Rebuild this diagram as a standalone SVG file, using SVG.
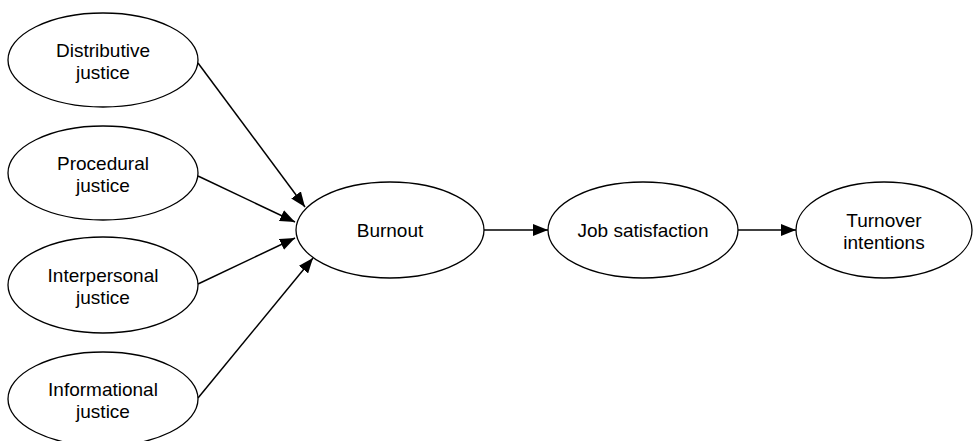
<svg xmlns="http://www.w3.org/2000/svg" width="974" height="441" viewBox="0 0 974 441">
<style>
.n ellipse{fill:#fff;stroke:#000;stroke-width:1.3}
text{font-family:"Liberation Sans",Arial,sans-serif;font-size:19px;fill:#000;text-anchor:middle}
.c line{stroke:#000;stroke-width:1.5}
</style>
<defs>
<marker id="ah" markerWidth="16" markerHeight="12" refX="15" refY="6" orient="auto" markerUnits="userSpaceOnUse">
<path d="M0,0 L15,6 L0,12 Z" fill="#000"/>
</marker>
</defs>
<rect width="974" height="441" fill="#fff"/>
<g class="c">
<line x1="198" y1="63" x2="305" y2="207" marker-end="url(#ah)"/>
<line x1="198" y1="176" x2="295" y2="222" marker-end="url(#ah)"/>
<line x1="198" y1="284" x2="295" y2="238" marker-end="url(#ah)"/>
<line x1="198" y1="398" x2="313" y2="258" marker-end="url(#ah)"/>
<line x1="484" y1="230" x2="548" y2="230" marker-end="url(#ah)"/>
<line x1="738" y1="230" x2="796" y2="230" marker-end="url(#ah)"/>
</g>
<g id="distributive" class="n"><ellipse cx="103" cy="60" rx="95" ry="47"/><text x="103" y="57">Distributive</text><text x="103" y="79">justice</text></g>
<g id="procedural" class="n"><ellipse cx="103" cy="173" rx="95" ry="47"/><text x="103" y="170">Procedural</text><text x="103" y="192">justice</text></g>
<g id="interpersonal" class="n"><ellipse cx="103" cy="285" rx="95" ry="48"/><text x="103" y="282">Interpersonal</text><text x="103" y="304">justice</text></g>
<g id="informational" class="n"><ellipse cx="103" cy="399" rx="95" ry="47"/><text x="103" y="396">Informational</text><text x="103" y="418">justice</text></g>
<g id="burnout" class="n"><ellipse cx="390" cy="230" rx="94" ry="48"/><text x="390" y="237">Burnout</text></g>
<g id="job" class="n"><ellipse cx="643" cy="230" rx="95" ry="48"/><text x="643" y="237">Job satisfaction</text></g>
<g id="turnover" class="n"><ellipse cx="884" cy="230" rx="88" ry="48"/><text x="884" y="227">Turnover</text><text x="884" y="249">intentions</text></g>
</svg>
